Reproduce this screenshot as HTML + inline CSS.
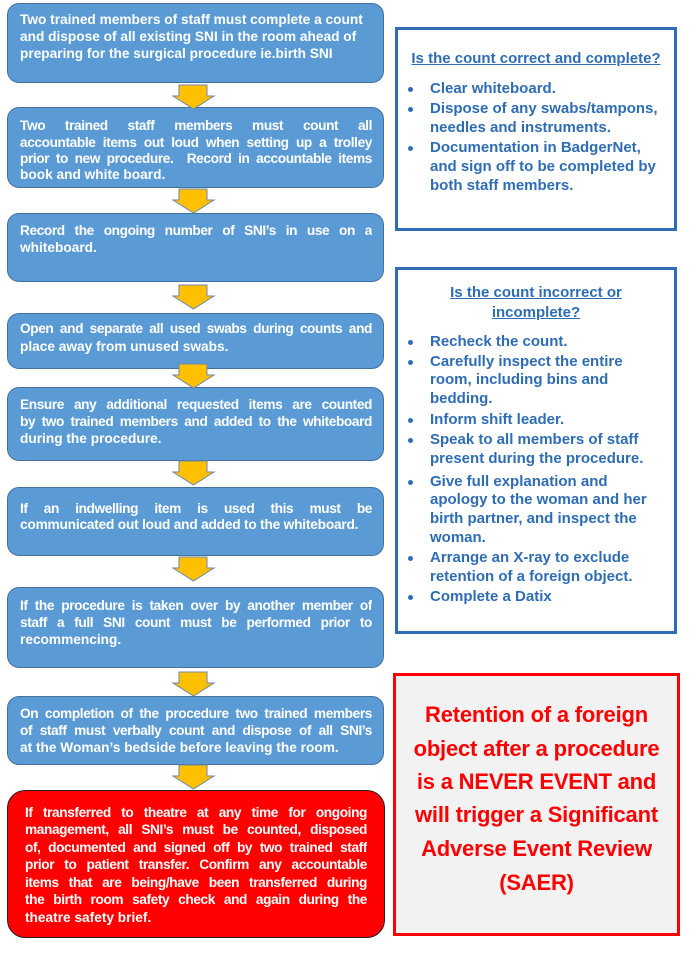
<!DOCTYPE html>
<html><head><meta charset="utf-8"><style>
body{margin:0;width:700px;height:953px;background:#fff;position:relative;overflow:hidden;font-family:"Liberation Sans",Arial,sans-serif;font-weight:bold}
.b{position:absolute;left:7px;width:377px;background:#5b9bd5;border:1px solid #41719c;border-radius:12px;box-sizing:border-box}
.l{position:absolute;left:20px;width:352px;font-size:13.7px;color:#fff;white-space:nowrap;height:17px;line-height:17px}
.j{text-align:justify;text-align-last:justify;white-space:normal;letter-spacing:-0.4px;overflow:hidden}
.r{position:absolute;font-size:15px;color:#2e6db4;white-space:nowrap;line-height:19px;height:19px}
.d{position:absolute;left:408px;width:5px;height:5px;border-radius:50%;background:#2e6db4}
.t{position:absolute;left:393px;width:287px;text-align:center;font-size:22px;letter-spacing:-0.2px;color:#f00;line-height:33px;height:33px}
svg{position:absolute}
</style></head><body>
<div class="b" style="top:3px;height:80px"></div>
<div class="b" style="top:107px;height:81px"></div>
<div class="b" style="top:213px;height:69px"></div>
<div class="b" style="top:313px;height:56px"></div>
<div class="b" style="top:387px;height:74px"></div>
<div class="b" style="top:487px;height:69px"></div>
<div class="b" style="top:587px;height:81px"></div>
<div class="b" style="top:696px;height:69px"></div>
<div style="position:absolute;left:7px;top:790px;width:378px;height:148px;background:#f00;border:1.5px solid #222;border-radius:18px;box-sizing:border-box"></div>

<svg width="700" height="953" style="left:0;top:0">
<defs><path id="a" d="M179,0 H207 V11 H214 L193.5,24 L173,11 H179 Z" fill="#ffc000" stroke="#6f87a8" stroke-width="1"/></defs>
<use href="#a" y="85"/><use href="#a" y="189"/><use href="#a" y="285"/><use href="#a" y="364"/>
<use href="#a" y="461"/><use href="#a" y="557"/><use href="#a" y="672"/><use href="#a" y="765"/>
</svg>

<div class="l" style="top:11px">Two trained members of staff must complete a count</div>
<div class="l" style="top:28px">and dispose of all existing SNI in the room ahead of</div>
<div class="l" style="top:45px">preparing for the surgical procedure ie.birth SNI</div>

<div class="l j" style="top:117px">Two trained staff members must count all</div>
<div class="l j" style="top:134px">accountable items out loud when setting up a trolley</div>
<div class="l j" style="top:150px">prior to new procedure.&nbsp; Record in accountable items</div>
<div class="l" style="top:166px">book and white board.</div>

<div class="l j" style="top:222px">Record the ongoing number of SNI’s in use on a</div>
<div class="l" style="top:239px">whiteboard.</div>

<div class="l j" style="top:320px">Open and separate all used swabs during counts and</div>
<div class="l" style="top:338px">place away from unused swabs.</div>

<div class="l j" style="top:396px">Ensure any additional requested items are counted</div>
<div class="l j" style="top:413px">by two trained members and added to the whiteboard</div>
<div class="l" style="top:430px">during the procedure.</div>

<div class="l j" style="top:500px">If an indwelling item is used this must be</div>
<div class="l" style="top:516px;letter-spacing:-0.2px">communicated out loud and added to the whiteboard.</div>

<div class="l j" style="top:597px">If the procedure is taken over by another member of</div>
<div class="l j" style="top:614px">staff a full SNI count must be performed prior to</div>
<div class="l" style="top:631px">recommencing.</div>

<div class="l j" style="top:705px">On completion of the procedure two trained members</div>
<div class="l j" style="top:722px">of staff must verbally count and dispose of all SNI’s</div>
<div class="l" style="top:739px">at the Woman’s bedside before leaving the room.</div>

<div class="l j" style="top:804px;left:25px;width:342px">If transferred to theatre at any time for ongoing</div>
<div class="l j" style="top:821px;left:25px;width:342px">management, all SNI’s must be counted, disposed</div>
<div class="l j" style="top:839px;left:25px;width:342px">of, documented and signed off by two trained staff</div>
<div class="l j" style="top:856px;left:25px;width:342px">prior to patient transfer. Confirm any accountable</div>
<div class="l j" style="top:874px;left:25px;width:342px">items that are being/have been transferred during</div>
<div class="l j" style="top:891px;left:25px;width:342px">the birth room safety check and again during the</div>
<div class="l" style="top:909px;left:25px">theatre safety brief.</div>

<div style="position:absolute;left:395px;top:27px;width:282px;height:204px;border:3px solid #2e6db4;box-sizing:border-box"></div>
<div class="r" style="top:49px;left:395px;width:282px;text-align:center;text-decoration:underline">Is the count correct and complete?</div>
<div class="d" style="top:87px"></div><div class="r" style="left:430px;top:79px">Clear whiteboard.</div>
<div class="d" style="top:107px"></div><div class="r" style="left:430px;top:99px">Dispose of any swabs/tampons,</div>
<div class="r" style="left:430px;top:118px">needles and instruments.</div>
<div class="d" style="top:146px"></div><div class="r" style="left:430px;top:138px">Documentation in BadgerNet,</div>
<div class="r" style="left:430px;top:157px">and sign off to be completed by</div>
<div class="r" style="left:430px;top:176px">both staff members.</div>

<div style="position:absolute;left:395px;top:267px;width:282px;height:367px;border:3px solid #2e6db4;box-sizing:border-box"></div>
<div class="r" style="top:283px;left:395px;width:282px;text-align:center;text-decoration:underline">Is the count incorrect or</div>
<div class="r" style="top:303px;left:395px;width:282px;text-align:center;text-decoration:underline">incomplete?</div>
<div class="d" style="top:340px"></div><div class="r" style="left:430px;top:332px">Recheck the count.</div>
<div class="d" style="top:360px"></div><div class="r" style="left:430px;top:352px">Carefully inspect the entire</div>
<div class="r" style="left:430px;top:370px">room, including bins and</div>
<div class="r" style="left:430px;top:389px">bedding.</div>
<div class="d" style="top:418px"></div><div class="r" style="left:430px;top:410px">Inform shift leader.</div>
<div class="d" style="top:438px"></div><div class="r" style="left:430px;top:430px">Speak to all members of staff</div>
<div class="r" style="left:430px;top:449px">present during the procedure.</div>
<div class="d" style="top:480px"></div><div class="r" style="left:430px;top:472px">Give full explanation and</div>
<div class="r" style="left:430px;top:490px">apology to the woman and her</div>
<div class="r" style="left:430px;top:509px">birth partner, and inspect the</div>
<div class="r" style="left:430px;top:528px">woman.</div>
<div class="d" style="top:556px"></div><div class="r" style="left:430px;top:548px">Arrange an X-ray to exclude</div>
<div class="r" style="left:430px;top:567px">retention of a foreign object.</div>
<div class="d" style="top:595px"></div><div class="r" style="left:430px;top:587px">Complete a Datix</div>

<div style="position:absolute;left:393px;top:673px;width:287px;height:263px;background:#f2f2f2;border:3px solid #f00;box-sizing:border-box"></div>
<div class="t" style="top:698px">Retention of a foreign</div>
<div class="t" style="top:732px">object after a procedure</div>
<div class="t" style="top:765px">is a NEVER EVENT and</div>
<div class="t" style="top:798px">will trigger a Significant</div>
<div class="t" style="top:832px">Adverse Event Review</div>
<div class="t" style="top:866px">(SAER)</div>
</body></html>
